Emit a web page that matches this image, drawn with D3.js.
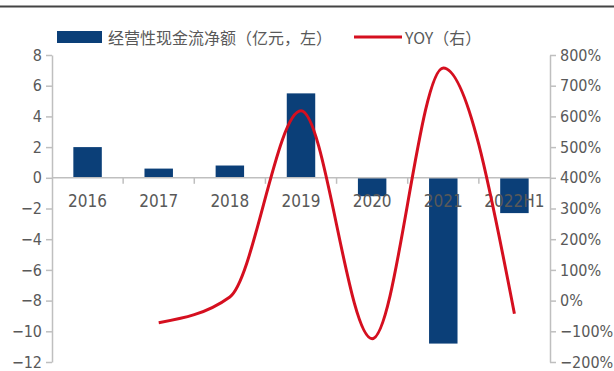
<!DOCTYPE html>
<html>
<head>
<meta charset="utf-8">
<script src="https://cdn.jsdelivr.net/npm/d3@7"></script>
<style>
  body { margin: 0; background: #fff; }
  .chart { width: 614px; height: 371px; }
</style>
</head>
<body>
<div class="chart"></div>
<script>
// 데이터
const years = ['2016', '2017', '2018', '2019', '2020', '2021', '2022H1'];
const cashFlow = [2.0, 0.6, 0.8, 5.5, -1.2, -10.8, -2.3];
const yoyYears = ['2017', '2018', '2019', '2020', '2021', '2022H1'];
const yoy = [-72, 12, 618, -124, 758, -43];
const leftTicks = [8, 6, 4, 2, 0, -2, -4, -6, -8, -10, -12];
const rightTicks = [800, 700, 600, 500, 400, 300, 200, 100, 0, -100, -200];
const legendNames = ['经营性现金流净额（亿元，左）', 'YOY（右）'];

const W = 614, H = 371;
const Margin = {top: 55, bottom: 9, left: 52, right: 64};
const barColor = '#0b3f78';
const lineColor = '#d50f1f';
const axisColor = '#bfbfbf';
const textColor = '#595959';
const font = "'Liberation Sans Narrow', 'DejaVu Sans Condensed', 'Noto Sans', sans-serif";

const svg = d3.select('.chart')
  .append('svg')
  .attr('width', W)
  .attr('height', H);

// 상단 구분선
svg.append('line')
  .attr('x1', 0).attr('x2', W)
  .attr('y1', 6.5).attr('y2', 6.5)
  .attr('stroke', '#444').attr('stroke-width', 2);

// 축 스케일
const x = d3.scaleBand()
  .domain(years)
  .range([Margin.left, W - Margin.right])
  .paddingInner(0).paddingOuter(0);

const y = d3.scaleLinear()
  .domain([-12, 8])
  .range([H - Margin.bottom, Margin.top]);

const y2 = d3.scaleLinear()
  .domain([-200, 800])
  .range([H - Margin.bottom, Margin.top]);

const barW = x.bandwidth() * 0.4;

// 막대
svg.append('g')
  .selectAll('rect')
  .data(cashFlow)
  .join('rect')
    .attr('x', (d, i) => x(years[i]) + (x.bandwidth() - barW) / 2)
    .attr('y', d => y(Math.max(0, d)))
    .attr('width', barW)
    .attr('height', d => Math.abs(y(d) - y(0)))
    .attr('fill', barColor);

// 왼쪽 축
const yAxisG = svg.append('g')
  .attr('transform', `translate(${Margin.left},0)`)
  .call(d3.axisLeft(y).tickValues(leftTicks).tickSize(6).tickSizeOuter(0).tickFormat(d => d < 0 ? '−' + Math.abs(d) : d));

// 오른쪽 축
const y2AxisG = svg.append('g')
  .attr('transform', `translate(${W - Margin.right},0)`)
  .call(d3.axisRight(y2).tickValues(rightTicks).tickSize(6).tickSizeOuter(0).tickFormat(d => (d < 0 ? '−' + Math.abs(d) : d) + '%'));

[yAxisG, y2AxisG].forEach(g => {
  g.select('.domain').attr('stroke', axisColor).attr('stroke-width', 1.5);
  g.selectAll('.tick line').attr('stroke', axisColor).attr('stroke-width', 1.5);
  g.selectAll('.tick text')
    .attr('fill', textColor)
    .style('font-family', font)
    .style('font-size', '16px');
});
yAxisG.selectAll('.tick text').attr('x', -10);
y2AxisG.selectAll('.tick text').attr('x', 10);

// x축 (0 위치)
const xAxisG = svg.append('g')
  .attr('transform', `translate(0,${y(0)})`);
xAxisG.append('line')
  .attr('x1', Margin.left).attr('x2', W - Margin.right)
  .attr('stroke', axisColor).attr('stroke-width', 1.5);
xAxisG.selectAll('line.sep')
  .data(years.slice(1))
  .join('line')
    .attr('class', 'sep')
    .attr('x1', d => x(d)).attr('x2', d => x(d))
    .attr('y1', 0).attr('y2', 6)
    .attr('stroke', axisColor).attr('stroke-width', 1.5);
xAxisG.selectAll('text')
  .data(years)
  .join('text')
    .attr('x', d => x(d) + x.bandwidth() / 2)
    .attr('y', 29)
    .attr('text-anchor', 'middle')
    .attr('fill', textColor)
    .style('font-family', font)
    .style('font-size', '17px')
    .text(d => d);

// YOY 선
const line = d3.line()
  .x((d, i) => x(yoyYears[i]) + x.bandwidth() / 2)
  .y(d => y2(d))
  .curve(d3.curveMonotoneX);

svg.append('path')
  .datum(yoy)
  .attr('d', line)
  .attr('fill', 'none')
  .attr('stroke', lineColor)
  .attr('stroke-width', 3);

// 범례
svg.append('rect')
  .attr('x', 57).attr('y', 31)
  .attr('width', 45).attr('height', 12)
  .attr('fill', barColor);
svg.append('text')
  .attr('x', 108).attr('y', 37)
  .attr('dominant-baseline', 'central')
  .attr('fill', textColor)
  .style('font-family', "'Noto Sans CJK SC', sans-serif")
  .style('font-size', '16px')
  .text(legendNames[0]);
svg.append('line')
  .attr('x1', 354).attr('x2', 402)
  .attr('y1', 37).attr('y2', 37)
  .attr('stroke', lineColor).attr('stroke-width', 3);
svg.append('text')
  .attr('x', 405).attr('y', 37)
  .attr('dominant-baseline', 'central')
  .attr('fill', textColor)
  .style('font-family', "'Noto Sans CJK SC', sans-serif")
  .style('font-size', '16px')
  .text(legendNames[1]);
</script>
</body>
</html>
